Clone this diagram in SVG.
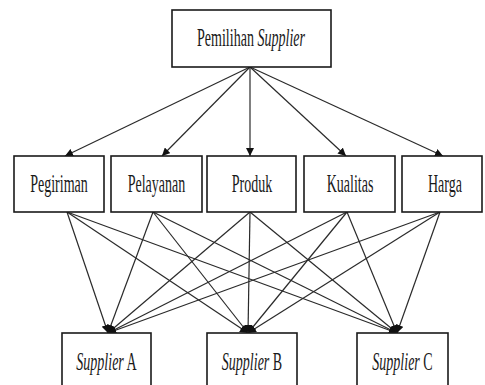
<svg xmlns="http://www.w3.org/2000/svg" width="485" height="385" viewBox="0 0 485 385">
<style>
.box{fill:#fff;stroke:#1a1a1a;stroke-width:1.6}
.lbl{font-family:"Liberation Serif","Times New Roman",serif;font-size:26px;fill:#1a1a1a;text-anchor:middle}
.it{font-style:italic}
.con line{stroke:#2a2a2a;stroke-width:1.2;marker-end:url(#ah)}
</style>
<defs>
<marker id="ah" viewBox="0 0 10 10" refX="10" refY="5" markerWidth="8" markerHeight="8" markerUnits="userSpaceOnUse" orient="auto">
<path d="M0,0 L10,5 L0,10 z" fill="#111"/>
</marker>
</defs>
<rect width="485" height="385" fill="#fff"/>
<g id="connectors" class="con">
<line x1="250" y1="67" x2="65" y2="156"/>
<line x1="250" y1="67" x2="162" y2="156"/>
<line x1="250" y1="67" x2="250" y2="156"/>
<line x1="250" y1="67" x2="346" y2="156"/>
<line x1="250" y1="67" x2="443" y2="156"/>
<line x1="67" y1="212" x2="108" y2="333"/>
<line x1="67" y1="212" x2="248" y2="333"/>
<line x1="67" y1="212" x2="397" y2="333"/>
<line x1="153" y1="212" x2="108" y2="333"/>
<line x1="153" y1="212" x2="248" y2="333"/>
<line x1="153" y1="212" x2="397" y2="333"/>
<line x1="250" y1="212" x2="108" y2="333"/>
<line x1="250" y1="212" x2="248" y2="333"/>
<line x1="250" y1="212" x2="397" y2="333"/>
<line x1="347" y1="212" x2="108" y2="333"/>
<line x1="347" y1="212" x2="248" y2="333"/>
<line x1="347" y1="212" x2="397" y2="333"/>
<line x1="440" y1="212" x2="108" y2="333"/>
<line x1="440" y1="212" x2="248" y2="333"/>
<line x1="440" y1="212" x2="397" y2="333"/>
</g>
<g id="pemilihan">
<rect class="box" x="172" y="10" width="159" height="57"/>
<text class="lbl" transform="translate(251,46) scale(0.54,1)">Pemilihan <tspan class="it">Supplier</tspan></text>
</g>
<g id="pegiriman">
<rect class="box" x="14" y="156" width="90" height="56"/>
<text class="lbl" transform="translate(59,192) scale(0.54,1)">Pegiriman</text>
</g>
<g id="pelayanan">
<rect class="box" x="111" y="156" width="91" height="56"/>
<text class="lbl" transform="translate(156.5,192) scale(0.54,1)">Pelayanan</text>
</g>
<g id="produk">
<rect class="box" x="207" y="156" width="89" height="56"/>
<text class="lbl" transform="translate(252,192) scale(0.54,1)">Produk</text>
</g>
<g id="kualitas">
<rect class="box" x="304" y="156" width="91" height="56"/>
<text class="lbl" transform="translate(350,192) scale(0.54,1)">Kualitas</text>
</g>
<g id="harga">
<rect class="box" x="402" y="156" width="80" height="56"/>
<text class="lbl" transform="translate(445,192) scale(0.54,1)">Harga</text>
</g>
<g id="supplierA">
<rect class="box" x="62" y="333" width="89" height="60"/>
<text class="lbl" transform="translate(106.5,370) scale(0.54,1)"><tspan class="it">Supplier</tspan> A</text>
</g>
<g id="supplierB">
<rect class="box" x="207" y="333" width="90" height="60"/>
<text class="lbl" transform="translate(252,370) scale(0.54,1)"><tspan class="it">Supplier</tspan> B</text>
</g>
<g id="supplierC">
<rect class="box" x="357" y="333" width="91" height="60"/>
<text class="lbl" transform="translate(402.5,370) scale(0.54,1)"><tspan class="it">Supplier</tspan> C</text>
</g>
</svg>
